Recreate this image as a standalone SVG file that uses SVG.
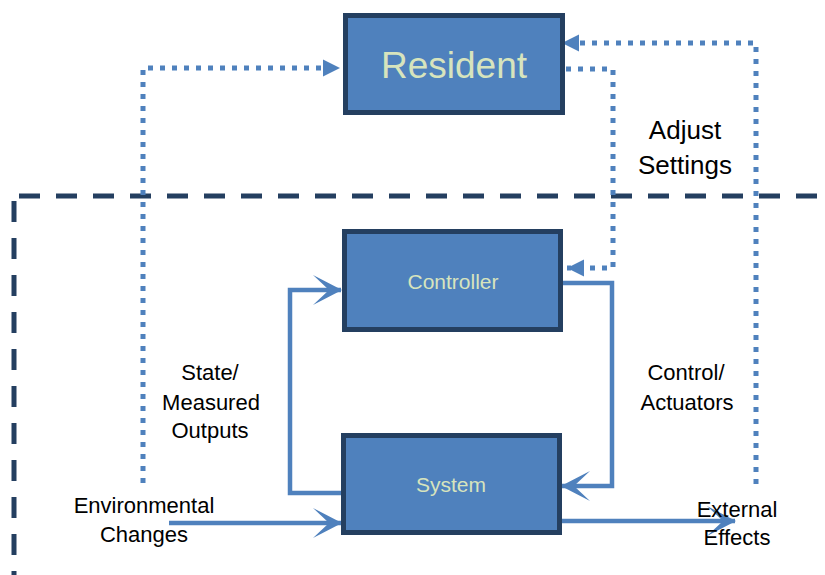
<svg xmlns="http://www.w3.org/2000/svg" width="825" height="575" viewBox="0 0 825 575">
<style>
.box{fill:#4F81BD;stroke:#243F60;stroke-width:5}
.bt{font-family:"Liberation Sans",Arial,sans-serif;fill:#D7E4BD;text-anchor:middle}
.lbl{font-family:"Liberation Sans",Arial,sans-serif;fill:#000;text-anchor:middle;font-size:22px}
.big{font-size:26px}
.dot{fill:none;stroke:#4F81BD;stroke-width:5;stroke-dasharray:5 7;marker-end:url(#tri)}
.sol{fill:none;stroke:#4F81BD;stroke-width:4.5;marker-end:url(#stealth)}
.bound{fill:none;stroke:#243F60;stroke-width:5;stroke-dasharray:21 16}
</style>
<defs>
<marker id="tri" markerUnits="userSpaceOnUse" viewBox="-20 -10 22 20" refX="0" refY="0" markerWidth="22" markerHeight="20" orient="auto">
<path d="M0,0 L-17,-8.5 L-17,8.5 Z" fill="#4F81BD"/>
</marker>
<marker id="stealth" markerUnits="userSpaceOnUse" viewBox="-32 -17 36 34" refX="0" refY="0" markerWidth="36" markerHeight="34" orient="auto">
<path d="M1,0 L-28,-15 L-12,0 L-28,15 Z" fill="#4F81BD"/>
</marker>
</defs>
<g id="boundary">
<path class="bound" d="M14,196 H825" stroke-dashoffset="-5"/>
<path class="bound" d="M14,196 V575" stroke-dashoffset="-5"/>
</g>
<g id="connectors">
<path class="dot" d="M143,483 V68 H340"/>
<path class="dot" d="M566,69 H613 V268 H567"/>
<path class="dot" d="M756,484 V43 H562"/>
<path class="sol" d="M563,283 H612 V486 H562"/>
<path class="sol" d="M341,493 H290 V290 H341"/>
<path class="sol" d="M169,523 H341"/>
<path class="sol" d="M562,521 H735"/>
</g>
<g id="resident">
<rect class="box" x="345.5" y="15.5" width="217" height="97"/>
<text class="bt" x="454" y="78" font-size="37">Resident</text>
</g>
<g id="controller">
<rect class="box" x="344.5" y="231.5" width="216" height="98"/>
<text class="bt" x="453" y="289" font-size="21">Controller</text>
</g>
<g id="system">
<rect class="box" x="343.5" y="435.5" width="216" height="97"/>
<text class="bt" x="451" y="492" font-size="21">System</text>
</g>
<g id="labels">
<text class="lbl big" x="685" y="139">Adjust</text>
<text class="lbl big" x="685" y="174">Settings</text>
<text class="lbl" x="210" y="380">State/</text>
<text class="lbl" x="211" y="410">Measured</text>
<text class="lbl" x="210" y="438">Outputs</text>
<text class="lbl" x="686" y="380">Control/</text>
<text class="lbl" x="687" y="410">Actuators</text>
<text class="lbl" x="144" y="513">Environmental</text>
<text class="lbl" x="144" y="542">Changes</text>
<text class="lbl" x="737" y="517">External</text>
<text class="lbl" x="737" y="545">Effects</text>
</g>
</svg>
